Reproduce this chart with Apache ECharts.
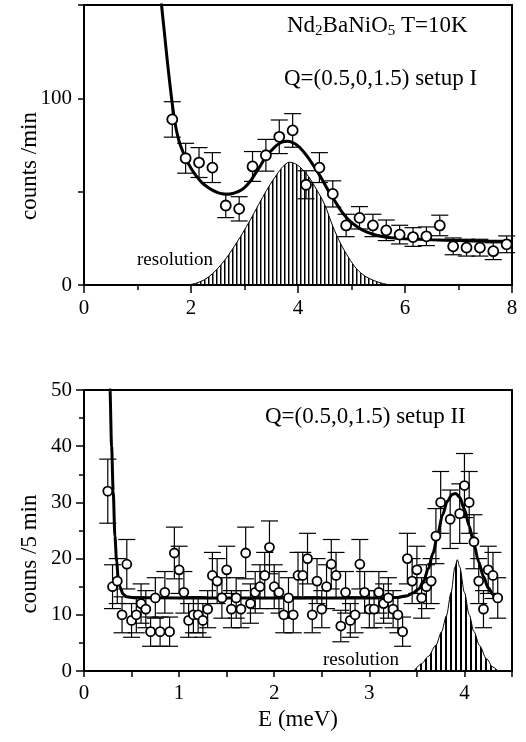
<!DOCTYPE html>
<html><head><meta charset="utf-8">
<script src="https://cdn.jsdelivr.net/npm/echarts@6/dist/echarts.min.js"></script>
<style>html,body{margin:0;padding:0;background:#fff}#c{width:526px;height:742px}</style>
</head><body><div id="c"></div>
<script>
// ---------- Top panel (setup I) ----------
const topE      = [1.65,1.9,2.15,2.4,2.65,2.9,3.15,3.4,3.65,3.9,4.15,4.4,4.65,4.9,5.15,5.4,5.65,5.9,6.15,6.4,6.65,6.9,7.15,7.4,7.65,7.9];
const topCounts = [88.7,67.9,65.6,62.9,42.6,40.8,63.5,69.5,79.4,82.8,53.7,62.9,48.8,31.9,36.0,31.9,29.3,27.0,25.7,26.1,31.9,20.7,20.0,20.0,18.1,21.8];
const topErr    = [9.5,8,8,8,6.5,6.5,8,8.5,9,9,7.5,8,7,6,6,6,5.5,5,5,5,5.5,4.5,4.5,4.5,4.5,4.5];
const topFitE   = [1.40,1.45,1.50,1.55,1.60,1.65,1.70,1.75,1.80,1.90,2.00,2.10,2.20,2.30,2.40,2.50,2.60,2.70,2.80,2.90,3.00,3.10,3.20,3.30,3.40,3.50,3.60,3.70,3.80,3.90,4.00,4.10,4.20,4.30,4.40,4.50,4.60,4.70,4.80,4.90,5.00,5.20,5.40,5.60,5.80,6.00,6.50,7.00,7.50,8.00];
const topFitC   = [168,150,136,122,109,97,87,80,75,68,62.5,58.3,55,52.6,50.8,49.5,48.8,48.6,49.2,50.3,52.2,55.3,59.5,64,68.8,72,74.8,76.5,77,76.3,74.5,71.5,67.8,63.5,59,54,49,44.5,40,36.3,33.5,29.5,27.2,25.9,25.2,24.8,24.2,23.8,23.5,23.4];
const topResE   = [1.95,2.10,2.25,2.40,2.55,2.70,2.85,3.00,3.15,3.30,3.45,3.60,3.72,3.84,3.96,4.08,4.20,4.35,4.50,4.65,4.80,4.95,5.10,5.25,5.40,5.55,5.72];
const topResC   = [0,1,2.8,6,10.5,16,22.5,29.5,37,45,52.5,59,63.5,65.8,64.8,62,58,51,43,31.5,22,14.5,8.5,4.8,2.6,1.1,0];
const topXTicks = [0,2,4,6,8];
const topYTicks = [0,100];

// ---------- Bottom panel (setup II) ----------
const botE = [0.25,0.30,0.35,0.40,0.45,0.50,0.55,0.60,0.65,0.70,0.75,0.80,0.85,0.90,0.95,1.00,1.05,1.10,1.15,1.20,1.25,1.30,1.35,1.40,1.45,1.50,1.55,1.60,1.65,1.70,1.75,1.80,1.85,1.90,1.95,2.00,2.05,2.10,2.15,2.20,2.25,2.30,2.35,2.40,2.45,2.50,2.55,2.60,2.65,2.70,2.75,2.80,2.85,2.90,2.95,3.00,3.05,3.10,3.15,3.20,3.25,3.30,3.35,3.40,3.45,3.50,3.55,3.60,3.65,3.70,3.75,3.85,3.95,4.00,4.05,4.10,4.15,4.20,4.25,4.30,4.35];
const botCounts = [32,15,16,10,19,9,10,12,11,7,13,7,14,7,21,18,14,9,10,10,9,11,17,16,13,18,11,13,11,21,12,14,15,17,22,15,14,10,13,10,17,17,20,10,16,11,15,19,17,8,14,9,10,19,14,11,11,14,12,13,11,10,7,20,16,18,13,15,16,24,30,27,28,33,30,23,16,11,18,17,13];
const botErr = [5.7,3.9,4.0,3.2,4.4,3.0,3.2,3.5,3.3,2.6,3.6,2.6,3.7,2.6,4.6,4.2,3.7,3.0,3.2,3.2,3.0,3.3,4.1,4.0,3.6,4.2,3.3,3.6,3.3,4.6,3.5,3.7,3.9,4.1,4.7,3.9,3.7,3.2,3.6,3.2,4.1,4.1,4.5,3.2,4.0,3.3,3.9,4.4,4.1,2.8,3.7,3.0,3.2,4.4,3.7,3.3,3.3,3.7,3.5,3.6,3.3,3.2,2.6,4.5,4.0,4.2,3.6,3.9,4.0,4.9,5.5,5.2,5.3,5.7,5.5,4.8,4.0,3.3,4.2,4.1,3.6];
const botFitE = [0.265,0.273,0.290,0.307,0.325,0.343,0.360,0.378,0.410,0.450,0.520,1.0,2.0,3.0,3.30,3.40,3.46,3.52,3.57,3.62,3.67,3.72,3.77,3.82,3.87,3.91,3.95,4.00,4.05,4.10,4.15,4.20,4.25,4.30,4.35];
const botFitC = [55,50,40,32,24,19.5,16.5,15,13.7,13.2,13.05,13,13,13,13.1,13.4,13.9,14.6,16,18.2,21,24.5,27.8,30.2,31.4,31.6,30.9,28.8,25.8,22.5,19.4,16.8,14.8,13.6,12.9];
const botResE = [3.47,3.55,3.62,3.70,3.76,3.81,3.86,3.90,3.925,3.95,4.00,4.05,4.10,4.16,4.23,4.30,4.35];
const botResC = [0,1.3,2.6,4.6,7,9.8,14,18.5,19.8,18.5,14,10,7,4.5,2.2,0.7,0];
const botXTicks = [0,1,2,3,4];
const botYTicks = [0,10,20,30,40,50];

const FONT = 'Liberation Serif, Times New Roman, serif';
const zip = (a, b) => a.map((v, i) => [v, b[i]]);
const zip3 = (a, b, c) => a.map((v, i) => [v, b[i], c[i]]);

function hatch(spacing, lw) {
  const c = document.createElement('canvas');
  c.width = spacing; c.height = 4;
  const ctx = c.getContext('2d');
  ctx.fillStyle = '#000';
  ctx.fillRect(0, 0, lw, 4);
  return { image: c, repeat: 'repeat' };
}

function errItem(params, api) {
  const x = api.value(0), y = api.value(1), e = api.value(2);
  const p0 = api.coord([x, y - e]), p1 = api.coord([x, y + e]);
  const hw = 8.5;
  const st = { stroke: '#000', lineWidth: 1.2 };
  return { type: 'group', children: [
    { type: 'line', shape: { x1: p0[0], y1: p0[1], x2: p1[0], y2: p1[1] }, style: st },
    { type: 'line', shape: { x1: p0[0] - hw, y1: p0[1], x2: p0[0] + hw, y2: p0[1] }, style: st },
    { type: 'line', shape: { x1: p1[0] - hw, y1: p1[1], x2: p1[0] + hw, y2: p1[1] }, style: st }
  ]};
}

const axisLine = { onZero: false, lineStyle: { color: '#000', width: 2 } };
const tickStyle = { color: '#000', width: 1.5 };
const lbl = (list, extra) => Object.assign({
  color: '#000', fontFamily: FONT, fontSize: 21,
  formatter: v => (list.some(t => Math.abs(t - v) < 1e-6) ? String(v) : '')
}, extra);

const chart = echarts.init(document.getElementById('c'));
chart.setOption({
  animation: false,
  backgroundColor: '#fff',
  grid: [
    { left: 84, right: 14, top: 5, height: 280, show: true, borderColor: '#000', borderWidth: 2, backgroundColor: 'transparent' },
    { left: 84, right: 14, top: 390, height: 281, show: true, borderColor: '#000', borderWidth: 2, backgroundColor: 'transparent' }
  ],
  xAxis: [
    { gridIndex: 0, type: 'value', min: 0, max: 8, interval: 2,
      axisLine, axisTick: { length: 8, lineStyle: tickStyle },
      minorTick: { show: true, splitNumber: 2, length: 5, lineStyle: tickStyle },
      splitLine: { show: false }, axisLabel: lbl(topXTicks, { margin: 13 }) },
    { gridIndex: 1, type: 'value', min: 0, max: 4.5, interval: 0.5,
      axisLine, axisTick: { length: 6, lineStyle: tickStyle },
      splitLine: { show: false }, axisLabel: lbl(botXTicks, { margin: 12 }) }
  ],
  yAxis: [
    { gridIndex: 0, type: 'value', min: 0, max: 150, interval: 50,
      axisLine, axisTick: { length: 6, lineStyle: tickStyle },
      splitLine: { show: false }, axisLabel: lbl(topYTicks, { margin: 12 }) },
    { gridIndex: 1, type: 'value', min: 0, max: 50, interval: 10,
      axisLine, axisTick: { length: 8, lineStyle: tickStyle },
      minorTick: { show: true, splitNumber: 2, length: 5, lineStyle: tickStyle },
      splitLine: { show: false }, axisLabel: lbl(botYTicks, { margin: 12 }) }
  ],
  series: [
    // top
    { type: 'line', xAxisIndex: 0, yAxisIndex: 0, data: zip(topResE, topResC), symbol: 'none',
      smooth: 0.3, lineStyle: { color: '#000', width: 1 },
      areaStyle: { color: hatch(4, 1.5), opacity: 1 }, z: 1 },
    { type: 'line', xAxisIndex: 0, yAxisIndex: 0, data: zip(topFitE, topFitC), symbol: 'none',
      smooth: 0.3, lineStyle: { color: '#000', width: 3 }, z: 2 },
    { type: 'custom', xAxisIndex: 0, yAxisIndex: 0, data: zip3(topE, topCounts, topErr),
      renderItem: errItem, z: 3 },
    { type: 'scatter', xAxisIndex: 0, yAxisIndex: 0, data: zip(topE, topCounts), symbol: 'circle',
      symbolSize: 10, itemStyle: { color: '#fff', borderColor: '#000', borderWidth: 1.8, opacity: 1 }, z: 4 },
    // bottom
    { type: 'line', xAxisIndex: 1, yAxisIndex: 1, data: zip(botResE, botResC), symbol: 'none',
      smooth: 0.3, smoothMonotone: 'x', lineStyle: { color: '#000', width: 1 },
      areaStyle: { color: hatch(5, 2), opacity: 1 }, z: 1 },
    { type: 'line', xAxisIndex: 1, yAxisIndex: 1, data: zip(botFitE, botFitC), symbol: 'none',
      smooth: 0.3, smoothMonotone: 'x', lineStyle: { color: '#000', width: 3 }, z: 2 },
    { type: 'custom', xAxisIndex: 1, yAxisIndex: 1, data: zip3(botE, botCounts, botErr),
      renderItem: errItem, z: 3 },
    { type: 'scatter', xAxisIndex: 1, yAxisIndex: 1, data: zip(botE, botCounts), symbol: 'circle',
      symbolSize: 9, itemStyle: { color: '#fff', borderColor: '#000', borderWidth: 1.8, opacity: 1 }, z: 4 }
  ],
  graphic: [
    { type: 'text', left: 287, top: 14, z: 10, style: {
        text: '{a|Nd}{s|2}{a|BaNiO}{s|5}{a| T=10K}',
        rich: { a: { fontFamily: FONT, fontSize: 23, fill: '#000' },
                s: { fontFamily: FONT, fontSize: 15, fill: '#000', padding: [12, 0, 0, 0] } } } },
    { type: 'text', left: 284, top: 67, z: 10, style: { text: 'Q=(0.5,0,1.5) setup I', fontFamily: FONT, fontSize: 23, fill: '#000' } },
    { type: 'text', left: 265, top: 405, z: 10, style: { text: 'Q=(0.5,0,1.5) setup II', fontFamily: FONT, fontSize: 23, fill: '#000' } },
    { type: 'text', left: 137, top: 251, z: 10, style: { text: 'resolution', fontFamily: FONT, fontSize: 19, fill: '#000' } },
    { type: 'text', left: 323, top: 651, z: 10, style: { text: 'resolution', fontFamily: FONT, fontSize: 19, fill: '#000' } },
    { type: 'text', x: 30, y: 166, rotation: Math.PI / 2, z: 10, style: { text: 'counts /min', fontFamily: FONT, fontSize: 23, fill: '#000', align: 'center', verticalAlign: 'middle' } },
    { type: 'text', x: 30, y: 554, rotation: Math.PI / 2, z: 10, style: { text: 'couns /5 min', fontFamily: FONT, fontSize: 23, fill: '#000', align: 'center', verticalAlign: 'middle' } },
    { type: 'text', x: 298, y: 720, z: 10, style: { text: 'E (meV)', fontFamily: FONT, fontSize: 23, fill: '#000', align: 'center', verticalAlign: 'middle' } }
  ]
});
</script>
</body></html>
